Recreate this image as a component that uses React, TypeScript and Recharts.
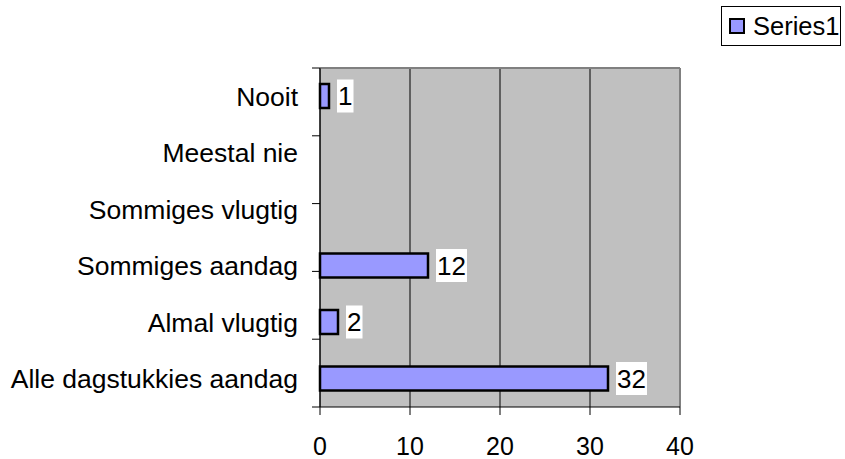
import React from 'react';
import { BarChart, Bar, XAxis, YAxis, CartesianGrid, Legend, LabelList, ReferenceLine } from 'recharts';

const categories = ['Nooit', 'Meestal nie', 'Sommiges vlugtig', 'Sommiges aandag', 'Almal vlugtig', 'Alle dagstukkies aandag'];
const series1: (number | null)[] = [1, null, null, 12, 2, 32];
const xTicks = [0, 10, 20, 30, 40];
const rowEdges = [0, 1, 2, 3, 4, 5, 6];

const data = categories.map((name, i) => ({ name, Series1: series1[i] }));

const FONT = '"Liberation Sans", Arial, sans-serif';

// white box with the value, just right of the bar end
const ValueLabel = (props: any) => {
  const { x, y, width, height, value } = props;
  if (value === null || value === undefined) return null;
  const text = String(value);
  const boxW = text.length * 14.5 + 2;
  const bx = x + width + 8;
  const cy = y + height / 2;
  return (
    <g>
      <rect x={bx} y={cy - 16.5} width={boxW} height={33} fill="#fff" />
      <text x={bx + boxW / 2} y={cy} dy="0.36em" textAnchor="middle" fontSize={26} fill="#000" fontFamily={FONT}>
        {text}
      </text>
    </g>
  );
};

const LegendBox = (props: any) => {
  const item = props.payload && props.payload[0];
  return (
    <div
      style={{
        border: '1px solid #000',
        background: '#fff',
        display: 'flex',
        alignItems: 'center',
        boxSizing: 'border-box',
        width: 120,
        height: 40,
        paddingLeft: 7,
        fontFamily: FONT,
      }}
    >
      <span style={{ width: 12, height: 12, background: '#9999FF', border: '2px solid #000', marginRight: 8 }} />
      <span style={{ fontSize: 25.5, color: '#000' }}>{item ? item.value : 'Series1'}</span>
    </div>
  );
};

export default function App() {
  return (
    <div style={{ position: 'absolute', left: 0, top: 0, width: 845, height: 459, background: '#fff', fontFamily: FONT }}>
      <BarChart
        width={845}
        height={459}
        data={data}
        layout="vertical"
        margin={{ top: 67, right: 165, bottom: 0, left: 0 }}
        style={{ fontFamily: FONT }}
      >
        <CartesianGrid horizontal={false} stroke="#000" fill="#C0C0C0" fillOpacity={1} />
        <XAxis
          type="number"
          domain={[0, 40]}
          ticks={xTicks}
          height={52}
          tickSize={8}
          tickMargin={22}
          axisLine={{ stroke: '#000' }}
          tickLine={{ stroke: '#000' }}
          tick={{ fontSize: 25, fill: '#000' }}
        />
        {/* gray top border of the plot area */}
        <XAxis
          xAxisId="top"
          orientation="top"
          type="number"
          domain={[0, 40]}
          height={1}
          tick={false}
          tickLine={false}
          axisLine={{ stroke: '#808080', strokeWidth: 2 }}
        />
        <YAxis
          yAxisId="rows"
          type="category"
          dataKey="name"
          width={312}
          interval={0}
          axisLine={false}
          tickLine={false}
          tickSize={0}
          tickMargin={14}
          tick={{ fontSize: 26.5, fill: '#000' }}
        />
        {/* row boundary tick marks on the left axis */}
        <YAxis
          yAxisId="axisEdge"
          type="number"
          domain={[0, 6]}
          allowDataOverflow
          ticks={rowEdges}
          width={8}
          tickFormatter={() => ''}
          tickSize={8}
          axisLine={{ stroke: '#000' }}
          tickLine={{ stroke: '#000' }}
        />
        <ReferenceLine x={40} yAxisId="rows" stroke="#808080" strokeWidth={2} />
        <Legend
          layout="vertical"
          align="center"
          verticalAlign="middle"
          content={LegendBox}
          wrapperStyle={{ position: 'absolute', left: 721, top: 6, width: 120, height: 40 }}
        />
        <Bar
          dataKey="Series1"
          yAxisId="rows"
          fill="#9999FF"
          stroke="#000"
          strokeWidth={2.5}
          barSize={24}
          isAnimationActive={false}
        >
          <LabelList dataKey="Series1" content={ValueLabel} />
        </Bar>
      </BarChart>
    </div>
  );
}
